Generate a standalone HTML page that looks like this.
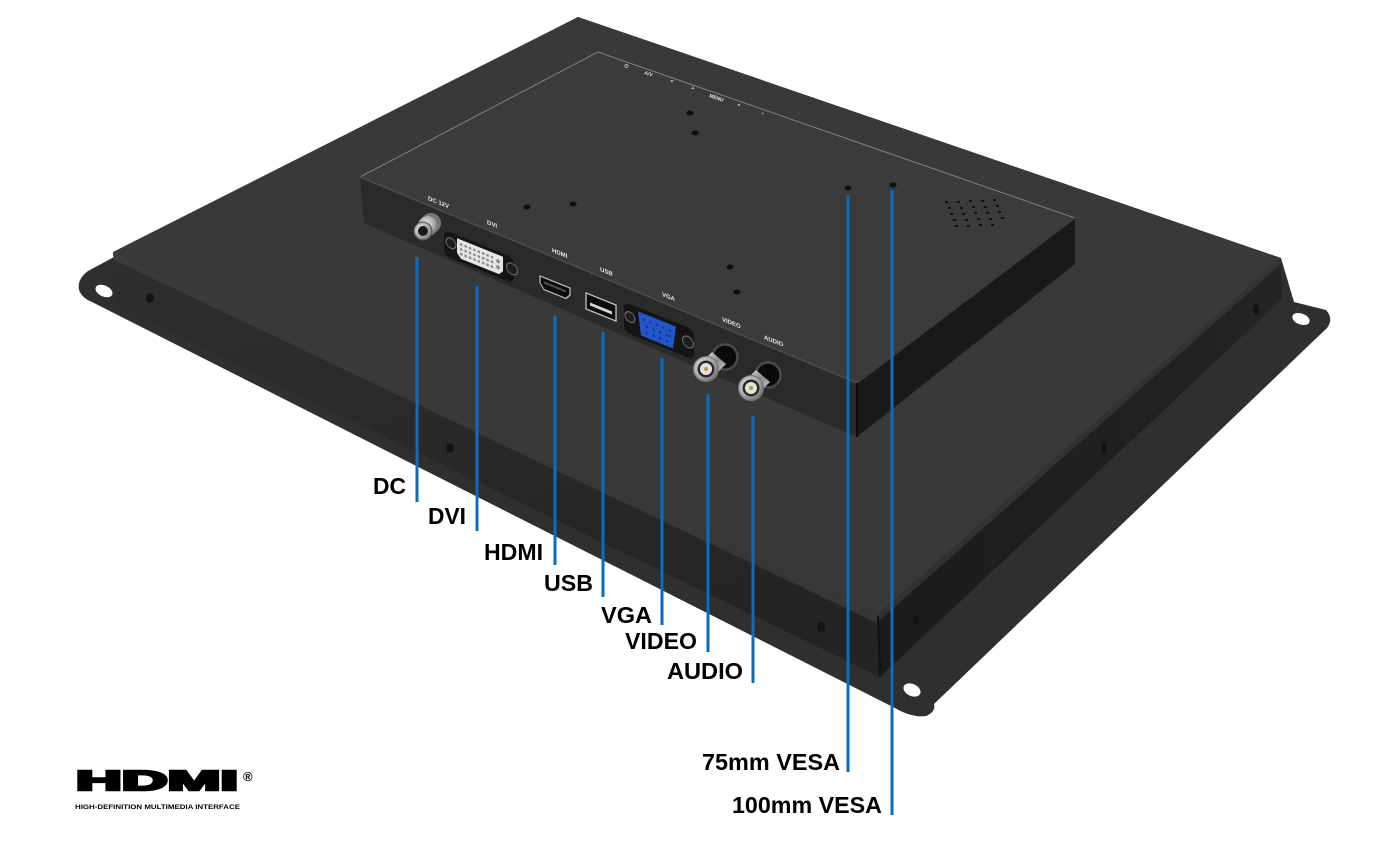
<!DOCTYPE html>
<html><head><meta charset="utf-8"><style>
html,body{margin:0;padding:0;background:#fff;}
svg{display:block;}
text{font-family:"Liberation Sans",Arial,sans-serif;}
</style></head><body>
<svg width="1393" height="841" viewBox="0 0 1393 841" xmlns="http://www.w3.org/2000/svg">
<defs>
<linearGradient id="gLL" x1="0" y1="0" x2="0.3" y2="1">
<stop offset="0" stop-color="#2e2e2e"/><stop offset="1" stop-color="#242424"/>
</linearGradient>
<linearGradient id="gLR" x1="0" y1="0" x2="1" y2="0">
<stop offset="0" stop-color="#1b1b1b"/><stop offset="1" stop-color="#242424"/>
</linearGradient>
<radialGradient id="silver" cx="0.4" cy="0.4" r="0.7">
<stop offset="0" stop-color="#f2f2f2"/><stop offset="0.6" stop-color="#a8a8a8"/><stop offset="1" stop-color="#5a5a5a"/>
</radialGradient>
<linearGradient id="chrome" x1="0" y1="0" x2="1" y2="1">
<stop offset="0" stop-color="#eeeeee"/><stop offset="0.5" stop-color="#8a8a8a"/><stop offset="1" stop-color="#dddddd"/>
</linearGradient>
</defs>

<!-- flange -->
<path d="M116,256 L88,271 Q77,279 79,290 Q82,298 92,302 L895,708 Q912,718 926,716 Q936,712 934,704 L1327,328 Q1334,319 1326,310 L1294,302 L1281,258 L578,17 Z" fill="#2f2f2f"/>
<!-- tab holes -->
<ellipse cx="104" cy="291" rx="9" ry="5.5" transform="rotate(25 104 291)" fill="#fff"/>
<ellipse cx="912" cy="690" rx="9" ry="6" transform="rotate(25 912 690)" fill="#fff"/>
<ellipse cx="1301" cy="319" rx="9" ry="5.5" transform="rotate(20 1301 319)" fill="#fff"/>

<!-- base lower-left face -->
<path d="M113,252 L877,615 L880,677 L117,307 Z" fill="url(#gLL)"/>
<path d="M113,252 L877,615 L877,623 L114,260 Z" fill="#444" opacity="0.6"/>
<!-- base lower-right face -->
<path d="M877,615 L1281,258 L1282,299 L880,677 Z" fill="url(#gLR)"/>
<path d="M877,615 L1281,258 L1281,264 L878,622 Z" fill="#3a3a3a" opacity="0.7"/>
<line x1="878" y1="616" x2="880" y2="677" stroke="#111" stroke-width="2"/>
<!-- base top -->
<path d="M578,17 L1281,258 L877,615 L113,252 Z" fill="#393939"/>

<!-- face holes -->
<ellipse cx="150" cy="298" rx="4" ry="5" fill="#141414"/>
<ellipse cx="450" cy="448" rx="4" ry="5" fill="#141414"/>
<ellipse cx="821" cy="627" rx="4" ry="5" fill="#141414"/>
<ellipse cx="916" cy="620" rx="3" ry="5" fill="#121212"/>
<ellipse cx="1104" cy="448" rx="3" ry="5" fill="#121212"/>
<ellipse cx="1256" cy="309" rx="3" ry="5" fill="#121212"/>

<!-- box -->
<path d="M360,177 L857,383 L857,437 L364,223 Z" fill="#2a2a2a"/>
<path d="M857,383 L1075,218 L1075,264 L857,437 Z" fill="#191919"/>
<path d="M598,52 L1075,218 L857,383 L360,177 Z" fill="#3b3b3b"/>
<path d="M360,177 L598,52 L1075,218" fill="none" stroke="#8a8a8a" stroke-width="0.9"/>
<line x1="360" y1="177" x2="857" y2="383" stroke="#4c4c4c" stroke-width="1.5"/>
<line x1="857" y1="383" x2="1075" y2="218" stroke="#3c3c3c" stroke-width="1.5"/>
<line x1="857" y1="383" x2="857" y2="437" stroke="#0c0c0c" stroke-width="2"/>

<!-- top buttons labels -->
<g fill="#e6e6e6" font-size="5" font-weight="bold">
<text transform="translate(624,67) rotate(19)">⏻</text>
<text transform="translate(644,74) rotate(19)">A/V</text>
<text transform="translate(670,82) rotate(19)">&lt;</text>
<text transform="translate(691,89) rotate(19)">&gt;</text>
<text transform="translate(709,97) rotate(19)">MENU</text>
<text transform="translate(737,106) rotate(19)">+</text>
<text transform="translate(761,114) rotate(19)">–</text>
</g>

<!-- holes -->
<g fill="#0e0e0e">
<ellipse cx="690" cy="113" rx="3.5" ry="2.5"/>
<ellipse cx="695" cy="133" rx="3.5" ry="2.5"/>
<ellipse cx="527" cy="207" rx="3.5" ry="2.5"/>
<ellipse cx="573" cy="204" rx="3.5" ry="2.5"/>
<ellipse cx="730" cy="267" rx="3.5" ry="2.5"/>
<ellipse cx="737" cy="292" rx="3.5" ry="2.5"/>
<ellipse cx="848" cy="188" rx="3.5" ry="2.5"/>
<ellipse cx="893" cy="185" rx="3.5" ry="2.5"/>
</g>
<!-- speaker grille -->
<g fill="#111">
<rect x="945" y="201" width="3" height="2"/><rect x="957" y="201" width="3" height="2"/><rect x="969" y="200" width="3" height="2"/><rect x="981" y="200" width="3" height="2"/><rect x="993" y="199" width="3" height="2"/>
<rect x="948" y="207" width="3" height="2"/><rect x="960" y="207" width="3" height="2"/><rect x="972" y="206" width="3" height="2"/><rect x="984" y="206" width="3" height="2"/><rect x="996" y="205" width="3" height="2"/>
<rect x="950" y="213" width="3" height="2"/><rect x="962" y="213" width="3" height="2"/><rect x="974" y="212" width="3" height="2"/><rect x="986" y="212" width="3" height="2"/><rect x="998" y="211" width="3" height="2"/>
<rect x="953" y="219" width="3" height="2"/><rect x="965" y="219" width="3" height="2"/><rect x="977" y="218" width="3" height="2"/><rect x="989" y="218" width="3" height="2"/><rect x="1001" y="217" width="3" height="2"/>
<rect x="955" y="225" width="3" height="2"/><rect x="967" y="225" width="3" height="2"/><rect x="979" y="224" width="3" height="2"/><rect x="991" y="224" width="3" height="2"/>
</g>

<!-- face port labels -->
<g fill="#e8e8e8" font-size="6" font-weight="bold">
<text transform="translate(428,200) skewY(22)">DC 12V</text>
<text transform="translate(487,224) skewY(22)">DVI</text>
<text transform="translate(552,252) skewY(22)">HDMI</text>
<text transform="translate(600,271) skewY(22)">USB</text>
<text transform="translate(662,296) skewY(22)">VGA</text>
<text transform="translate(722,321) skewY(22)">VIDEO</text>
<text transform="translate(764,339) skewY(22)">AUDIO</text>
</g>

<!-- DC jack -->
<circle cx="431" cy="223" r="10" fill="#777"/>
<circle cx="428" cy="226" r="10" fill="url(#silver)"/>
<circle cx="423" cy="231" r="9" fill="url(#silver)" stroke="#555" stroke-width="1"/>
<circle cx="423" cy="231" r="5" fill="#1a1a1a"/>

<!-- DVI -->
<g transform="translate(480,257) skewY(22)">
<rect x="-36" y="-13" width="70" height="26" rx="6" fill="#151515"/>
<path d="M-23,-9.5 H23 V5 L19,9.5 H-19 L-23,5 Z" fill="#e6e6e6"/>
<g fill="#8a8a8a">
<rect x="-20" y="-6" width="2.4" height="2.4"/><rect x="-15.6" y="-6" width="2.4" height="2.4"/><rect x="-11.2" y="-6" width="2.4" height="2.4"/><rect x="-6.8" y="-6" width="2.4" height="2.4"/><rect x="-2.4" y="-6" width="2.4" height="2.4"/><rect x="2" y="-6" width="2.4" height="2.4"/><rect x="6.4" y="-6" width="2.4" height="2.4"/><rect x="10.8" y="-6" width="2.4" height="2.4"/>
<rect x="-20" y="-1.2" width="2.4" height="2.4"/><rect x="-15.6" y="-1.2" width="2.4" height="2.4"/><rect x="-11.2" y="-1.2" width="2.4" height="2.4"/><rect x="-6.8" y="-1.2" width="2.4" height="2.4"/><rect x="-2.4" y="-1.2" width="2.4" height="2.4"/><rect x="2" y="-1.2" width="2.4" height="2.4"/><rect x="6.4" y="-1.2" width="2.4" height="2.4"/><rect x="10.8" y="-1.2" width="2.4" height="2.4"/>
<rect x="-20" y="3.6" width="2.4" height="2.4"/><rect x="-15.6" y="3.6" width="2.4" height="2.4"/><rect x="-11.2" y="3.6" width="2.4" height="2.4"/><rect x="-6.8" y="3.6" width="2.4" height="2.4"/><rect x="-2.4" y="3.6" width="2.4" height="2.4"/><rect x="2" y="3.6" width="2.4" height="2.4"/><rect x="6.4" y="3.6" width="2.4" height="2.4"/><rect x="10.8" y="3.6" width="2.4" height="2.4"/>
<rect x="16" y="-4" width="4" height="2"/><rect x="17" y="-5" width="2" height="4"/><rect x="16" y="2" width="4" height="2"/><rect x="17" y="1" width="2" height="4"/>
</g>
<circle cx="-29" cy="-2" r="5" fill="#1e1e1e" stroke="#666" stroke-width="1.2"/>
<circle cx="32" cy="-1" r="5.5" fill="#1e1e1e" stroke="#666" stroke-width="1.2"/>
</g>

<!-- HDMI port -->
<g transform="translate(555,288) skewY(22)">
<path d="M-15,-6 H15 V1 L11,6 H-11 L-15,1 Z" fill="#0c0c0c" stroke="#b5b5b5" stroke-width="1.3"/>
<rect x="-11" y="-2" width="22" height="2" fill="#555"/>
</g>

<!-- USB port -->
<g transform="translate(601,307) skewY(22)">
<rect x="-15" y="-8" width="30" height="16" fill="#0c0c0c" stroke="#c5c5c5" stroke-width="1.3"/>
<rect x="-11" y="0" width="22" height="3" fill="#d8d8d8"/>
</g>

<!-- VGA port -->
<g transform="translate(657,331) skewY(22)">
<rect x="-33" y="-16" width="70" height="30" rx="6" fill="#141414"/>
<path d="M-19,-12 H19 L16,11 H-16 Z" fill="#2356c8"/>
<g fill="#123a94">
<circle cx="-13" cy="-6" r="1.3"/><circle cx="-6.5" cy="-6" r="1.3"/><circle cx="0" cy="-6" r="1.3"/><circle cx="6.5" cy="-6" r="1.3"/><circle cx="13" cy="-6" r="1.3"/>
<circle cx="-10" cy="0" r="1.3"/><circle cx="-3.3" cy="0" r="1.3"/><circle cx="3.3" cy="0" r="1.3"/><circle cx="10" cy="0" r="1.3"/><circle cx="13" cy="0" r="1.3"/>
<circle cx="-10" cy="6" r="1.3"/><circle cx="-3.3" cy="6" r="1.3"/><circle cx="3.3" cy="6" r="1.3"/><circle cx="10" cy="6" r="1.3"/>
</g>
<circle cx="-27" cy="-3" r="5" fill="#1e1e1e" stroke="#666" stroke-width="1.2"/>
<circle cx="31" cy="-1.5" r="5.5" fill="#1e1e1e" stroke="#666" stroke-width="1.2"/>
</g>

<!-- VIDEO BNC -->
<circle cx="725" cy="357" r="12.5" fill="#0a0a0a" stroke="#4a4a4a" stroke-width="2.5"/>
<path d="M712,352 L726,364 L713,377 L700,364 Z" fill="url(#chrome)"/>
<circle cx="706" cy="369" r="12.5" fill="url(#silver)" stroke="#777" stroke-width="1"/>
<circle cx="706" cy="369" r="8.5" fill="#2a2a2a"/>
<circle cx="706" cy="369" r="6" fill="#e4e2da"/>
<circle cx="706" cy="369" r="2" fill="#b39a4a"/>

<!-- AUDIO BNC -->
<circle cx="768" cy="375" r="12.5" fill="#0a0a0a" stroke="#4a4a4a" stroke-width="2.5"/>
<path d="M756,370 L770,382 L757,395 L744,382 Z" fill="url(#chrome)"/>
<circle cx="751" cy="388" r="12.5" fill="url(#silver)" stroke="#777" stroke-width="1"/>
<circle cx="751" cy="388" r="8.5" fill="#2a2a2a"/>
<circle cx="751" cy="388" r="6" fill="#e4e2da"/>
<circle cx="751" cy="388" r="2" fill="#b39a4a"/>

<!-- blue leader lines -->
<g stroke="#0a6dc2" stroke-width="3">
<line x1="417" y1="257" x2="417" y2="502"/>
<line x1="477" y1="286" x2="477" y2="531"/>
<line x1="555" y1="316" x2="555" y2="565"/>
<line x1="603" y1="332" x2="603" y2="597"/>
<line x1="662" y1="358" x2="662" y2="625"/>
<line x1="708" y1="394" x2="708" y2="652"/>
<line x1="753" y1="416" x2="753" y2="683"/>
<line x1="848" y1="195" x2="848" y2="772"/>
<line x1="892" y1="190" x2="892" y2="815"/>
</g>

<!-- labels -->
<g fill="#000" font-size="23" font-weight="bold">
<text x="373" y="494" textLength="33" lengthAdjust="spacingAndGlyphs">DC</text>
<text x="428" y="524" textLength="38" lengthAdjust="spacingAndGlyphs">DVI</text>
<text x="484" y="560" textLength="59" lengthAdjust="spacingAndGlyphs">HDMI</text>
<text x="544" y="591" textLength="49" lengthAdjust="spacingAndGlyphs">USB</text>
<text x="601" y="623" textLength="51" lengthAdjust="spacingAndGlyphs">VGA</text>
<text x="625" y="649" textLength="72" lengthAdjust="spacingAndGlyphs">VIDEO</text>
<text x="667" y="679" textLength="76" lengthAdjust="spacingAndGlyphs">AUDIO</text>
<text x="702" y="770" textLength="138" lengthAdjust="spacingAndGlyphs">75mm VESA</text>
<text x="732" y="813" textLength="150" lengthAdjust="spacingAndGlyphs">100mm VESA</text>
</g>

<!-- HDMI logo -->
<text x="76" y="790" font-size="28" font-weight="bold" fill="#000" stroke="#000" stroke-width="2.6" textLength="162" lengthAdjust="spacingAndGlyphs">HDMI</text>
<text x="243" y="781" font-size="13" font-weight="bold" fill="#000">®</text>
<text x="75" y="809" font-size="6.5" font-weight="bold" fill="#000" textLength="165" lengthAdjust="spacingAndGlyphs">HIGH-DEFINITION MULTIMEDIA INTERFACE</text>
</svg>
</body></html>
